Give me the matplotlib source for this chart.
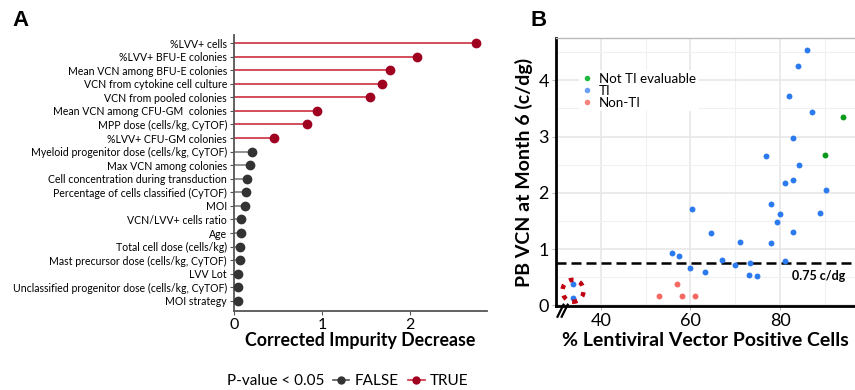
import numpy as np
import matplotlib.pyplot as plt
from matplotlib.lines import Line2D
from matplotlib.patches import Ellipse

plt.rcParams['font.family'] = ['Lato', 'DejaVu Sans']

# ---- panel A data: variable importance
features = ["%LVV+ cells", "%LVV+ BFU-E colonies", "Mean VCN among BFU-E colonies",
            "VCN from cytokine cell culture", "VCN from pooled colonies",
            "Mean VCN among CFU-GM  colonies", "MPP dose (cells/kg, CyTOF)",
            "%LVV+ CFU-GM colonies", "Myeloid progenitor dose (cells/kg, CyTOF)",
            "Max VCN among colonies", "Cell concentration during transduction",
            "Percentage of cells classified (CyTOF)", "MOI", "VCN/LVV+ cells ratio",
            "Age", "Total cell dose (cells/kg)", "Mast precursor dose (cells/kg, CyTOF)",
            "LVV Lot", "Unclassified progenitor dose (cells/kg, CyTOF)", "MOI strategy"]
importance = [2.75, 2.08, 1.77, 1.68, 1.55, 0.94, 0.83, 0.45, 0.20, 0.18,
              0.15, 0.14, 0.13, 0.08, 0.08, 0.07, 0.07, 0.05, 0.05, 0.04]
significant = [True] * 8 + [False] * 12

# ---- panel B data: PB VCN vs %LVV+ cells
ti_x = [86.0, 84.0, 81.9, 87.0, 82.9, 76.9, 84.2, 81.0, 82.9, 90.3, 89.0, 78.0,
        80.0, 79.3, 82.9, 78.0, 60.4, 64.5, 71.0, 55.9, 57.5, 67.0, 81.0, 73.3,
        70.0, 59.9, 63.2, 73.0, 74.9, 33.8, 33.8]
ti_y = [4.53, 4.26, 3.72, 3.43, 2.97, 2.65, 2.49, 2.17, 2.23, 2.05, 1.65, 1.81,
        1.62, 1.48, 1.30, 1.11, 1.71, 1.28, 1.13, 0.93, 0.87, 0.80, 0.79, 0.76,
        0.71, 0.66, 0.60, 0.54, 0.52, 0.38, 0.14]
nonti_x = [56.9, 53.0, 58.0, 61.0]
nonti_y = [0.38, 0.17, 0.16, 0.16]
notev_x = [94.0, 90.0]
notev_y = [3.34, 2.68]
threshold = 0.75

fig = plt.figure(figsize=(8.55, 3.9), dpi=100)

# ================= panel A
axA = fig.add_axes([234 / 855, 1 - 311 / 390, 253 / 855, 276 / 390])
n = len(features)
ypos = np.arange(n)[::-1]
for yy, val, sig in zip(ypos, importance, significant):
    lc = '#cc2f3f' if sig else '#808080'
    pc = '#a00020' if sig else '#333333'
    axA.plot([0, val], [yy, yy], color=lc, lw=1.2, zorder=2, clip_on=False)
    axA.plot(val, yy, 'o', color=pc, ms=6, zorder=3, clip_on=False)
axA.set_yticks(ypos)
axA.set_yticklabels(features, fontsize=7.6)
axA.set_ylim(-0.74, n - 1 + 0.59)
axA.set_xlim(0, 2.875)
axA.set_xticks([0, 1, 2])
axA.tick_params(axis='x', labelsize=11.5, length=3, color='#555555', pad=2)
axA.tick_params(axis='y', length=3, color='#555555', pad=2)
for s in ['top', 'right']:
    axA.spines[s].set_visible(False)
for s in ['left', 'bottom']:
    axA.spines[s].set_color('#555555')
    axA.spines[s].set_linewidth(1.3)
axA.set_xlabel('Corrected Impurity Decrease', fontsize=12.8, fontweight='bold', labelpad=0)

# bottom legend
fig.text(227 / 855, 1 - 381 / 390, 'P-value < 0.05', fontsize=11, va='center', ha='left')
handles = [Line2D([], [], color='#555555', marker='o', ms=5, lw=1.2, markerfacecolor='#333333',
                  markeredgecolor='#333333'),
           Line2D([], [], color='#cc2f3f', marker='o', ms=5, lw=1.2, markerfacecolor='#a00020',
                  markeredgecolor='#a00020')]
fig.legend(handles, ['FALSE', 'TRUE'], loc='center left', ncol=2, frameon=False,
           bbox_to_anchor=(325 / 855, 1 - 381 / 390), fontsize=11, handlelength=1.1,
           handletextpad=0.35, columnspacing=0.6, borderpad=0)

fig.text(12 / 855, 1 - 20 / 390, 'A', fontsize=16, fontweight='bold', va='center',
         family=['Liberation Sans', 'DejaVu Sans'])
fig.text(530 / 855, 1 - 20 / 390, 'B', fontsize=16, fontweight='bold', va='center',
         family=['Liberation Sans', 'DejaVu Sans'])

# ================= panel B
axB = fig.add_axes([556 / 855, 1 - 306 / 390, 299 / 855, 268 / 390])
axB.set_xlim(30.8, 96.7)
axB.set_ylim(-0.01, 4.75)
axB.set_xticks([40, 60, 80])
axB.set_xticks([30, 50, 70, 90], minor=True)
axB.set_yticks([0, 1, 2, 3, 4])
axB.set_yticks([0.5, 1.5, 2.5, 3.5, 4.5], minor=True)
axB.grid(True, which='major', color='#e6e6e6', lw=1.1)
axB.grid(True, which='minor', color='#f0f0f0', lw=0.8)
axB.set_axisbelow(True)
axB.tick_params(which='minor', length=0)
axB.tick_params(which='major', labelsize=13, length=3, color='#bbbbbb', pad=2)
axB.spines['right'].set_visible(False)
axB.spines['top'].set_color('#bbbbbb')
axB.spines['top'].set_linewidth(1.0)
for s in ['left', 'bottom']:
    axB.spines[s].set_color('black')
    axB.spines[s].set_linewidth(2)

axB.axhline(threshold, color='black', ls='--', lw=1.8, dashes=(4, 2), zorder=2)
axB.text(82.6, 0.52, '0.75 c/dg', fontsize=9, fontweight='bold', va='center', ha='left')

axB.scatter(notev_x, notev_y, s=18, color='#0a9a1a', zorder=3, linewidths=0)
axB.scatter(ti_x, ti_y, s=18, color='#2b7bef', zorder=3, linewidths=0)
axB.scatter(nonti_x, nonti_y, s=18, color='#f46a62', zorder=3, linewidths=0)

# dotted circle around the two low points below the axis break
circ = Ellipse((ti_x[-1], (ti_y[-1] + ti_y[-2]) / 2), width=4.7, height=0.39,
               facecolor='none', edgecolor='#c00010', lw=3.2, ls=(0, (1, 1.5)),
               zorder=4, clip_on=False)
axB.add_patch(circ)

# axis break marks
for dx in (0.0, 0.014):
    axB.plot([0.005 + dx, 0.025 + dx], [-0.04, 0.005], transform=axB.transAxes,
             color='black', lw=1.6, clip_on=False, zorder=5)

# legend
leg_h = [Line2D([], [], ls='', marker='o', ms=4, color=c, markeredgewidth=0)
         for c in ['#20b840', '#6a9ff5', '#f7837a']]
axB.legend(leg_h, ['Not TI evaluable', 'TI', 'Non-TI'], loc='upper left',
           bbox_to_anchor=(0.055, 0.905), fontsize=9.6, frameon=True, framealpha=1,
           edgecolor='none', handlelength=0.8, handletextpad=0.5, labelspacing=0.0,
           borderpad=0.2)

axB.set_xlabel('% Lentiviral Vector Positive Cells', fontsize=14, fontweight='bold', labelpad=2)
axB.set_ylabel('PB VCN at Month 6 (c/dg)', fontsize=14, fontweight='bold', labelpad=4)

fig.savefig('out.png', dpi=100)
